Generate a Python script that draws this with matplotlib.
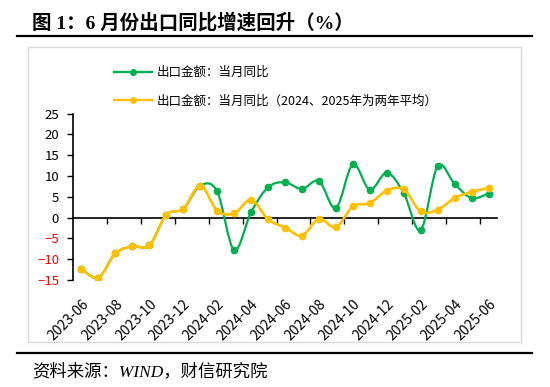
import numpy as np
import matplotlib
matplotlib.use("Agg")
import matplotlib.pyplot as plt
from matplotlib.path import Path
from matplotlib.patches import PathPatch, Rectangle
from matplotlib.lines import Line2D

plt.rcParams['font.family'] = ['Noto Sans CJK SC', 'DejaVu Sans']

# 月份（2023-06 到 2025-06）
months = ['2023-06', '2023-07', '2023-08', '2023-09', '2023-10', '2023-11', '2023-12',
          '2024-01', '2024-02', '2024-03', '2024-04', '2024-05', '2024-06', '2024-07',
          '2024-08', '2024-09', '2024-10', '2024-11', '2024-12', '2025-01', '2025-02',
          '2025-03', '2025-04', '2025-05', '2025-06']

# 出口金额：当月同比
export_yoy = [-12.4, -14.4, -8.6, -6.9, -6.7, 0.7, 2.1,
              7.7, 6.3, -7.8, 1.3, 7.3, 8.5, 6.9,
              8.8, 2.3, 12.8, 6.7, 10.8, 5.9, -3.0,
              12.4, 8.1, 4.7, 5.8]

# 出口金额：当月同比（2024、2025年为两年平均）
export_yoy_avg = [-12.4, -14.4, -8.6, -6.9, -6.7, 0.7, 2.1,
                  7.7, 1.7, 1.0, 4.3, -0.4, -2.4, -4.3,
                  -0.3, -2.3, 2.7, 3.5, 6.5, 6.8, 1.5,
                  1.9, 4.7, 6.2, 7.1]

label1 = '出口金额：当月同比'
label2 = '出口金额：当月同比（2024、2025年为两年平均）'
green = '#00B050'
yellow = '#FFC000'

W, H = 550, 387
fig = plt.figure(figsize=(W / 100, H / 100), dpi=100)


def px(x, y):
    return x / W, 1 - y / H


def smooth_path(x, y):
    # 类似 Excel 的平滑线：三次贝塞尔
    x = np.asarray(x, float)
    y = np.asarray(y, float)
    n = len(x)
    verts = [(x[0], y[0])]
    codes = [Path.MOVETO]
    for i in range(n - 1):
        i0 = max(i - 1, 0)
        i3 = min(i + 2, n - 1)
        c1 = (x[i] + (x[i + 1] - x[i0]) / 6, y[i] + (y[i + 1] - y[i0]) / 6)
        c2 = (x[i + 1] - (x[i3] - x[i]) / 6, y[i + 1] - (y[i3] - y[i]) / 6)
        verts += [c1, c2, (x[i + 1], y[i + 1])]
        codes += [Path.CURVE4] * 3
    return Path(verts, codes)


x = np.arange(len(months))

l, b = px(73, 280)
r, t = px(497, 113.7)
ax = fig.add_axes([l, b, r - l, t - b])

for vals, col, lw, z in [(export_yoy, green, 1.6, 3), (export_yoy_avg, yellow, 1.9, 4)]:
    ax.add_patch(PathPatch(smooth_path(x, vals), facecolor='none', edgecolor=col,
                           lw=lw, zorder=z))
    ax.plot(x, vals, 'o', color=col, ms=4.5, zorder=z)

ax.set_xlim(-0.5, len(months) - 0.5)
ax.set_ylim(-15, 25)
ax.set_yticks(np.arange(-15, 26, 5))
ax.set_xticks(x[::2])
ax.set_xticklabels(months[::2], rotation=45, ha='right', rotation_mode='anchor',
                   fontsize=10)
ax.tick_params(axis='x', length=0, pad=12)
ax.tick_params(axis='y', length=4, width=1, direction='out', pad=6, labelsize=9.5)
for lab in ax.get_yticklabels():
    if lab.get_text().startswith(('-', '−')):
        lab.set_color('#FF0000')

for s in ['top', 'right', 'bottom']:
    ax.spines[s].set_visible(False)
ax.spines['left'].set_linewidth(1.2)

# 零轴及刻度
zero_ax = ax.secondary_xaxis(15 / 40)
zero_ax.set_xticks(x[1:-1:2] + 0.5)
zero_ax.set_xticklabels([])
zero_ax.tick_params(axis='x', length=4, width=1, direction='out')
zero_ax.spines['bottom'].set_linewidth(1.2)

handles = [Line2D([], [], color=green, lw=1.7, marker='o', ms=4),
           Line2D([], [], color=yellow, lw=1.7, marker='o', ms=4)]
fig.legend(handles, [label1, label2], loc='upper left', bbox_to_anchor=px(114, 66),
           frameon=False, fontsize=9, handlelength=3.0, handletextpad=0.4,
           labelspacing=1.25, borderpad=0, borderaxespad=0)

# 图框与标题
fig.patches.append(Rectangle(px(28, 342), 493 / W, 295 / H, transform=fig.transFigure,
                             facecolor='none', edgecolor='#D9D9D9', lw=1))
fig.add_artist(Line2D([17 / W, 532 / W], [1 - 36 / H] * 2, color='black', lw=1.6))
fig.add_artist(Line2D([17 / W, 532 / W], [1 - 353 / H] * 2, color='black', lw=1.6))

fig.text(*px(32, 28), '图 1：6 月份出口同比增速回升（%）', fontsize=14, fontweight='bold',
         family=['Liberation Serif', 'Noto Sans CJK SC'], va='baseline')
fig.text(*px(32, 376), '资料来源：WIND，财信研究院', fontsize=12.5, style='italic',
         family=['Liberation Serif', 'Noto Sans CJK SC'], va='baseline')

fig.savefig('out.png', dpi=100)
